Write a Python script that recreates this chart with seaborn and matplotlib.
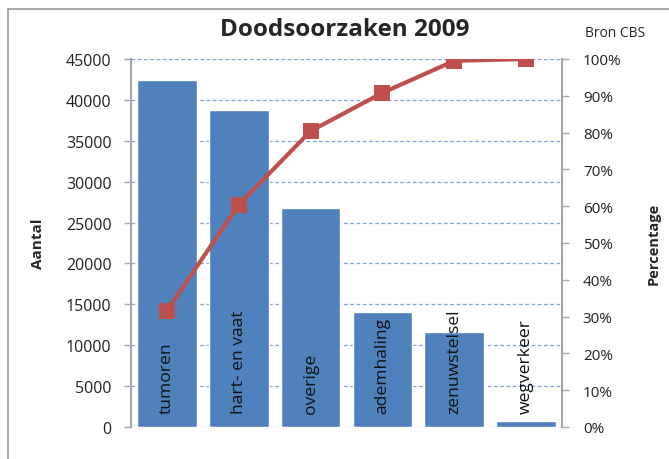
import numpy as np
import pandas as pd
import matplotlib
matplotlib.use("Agg")  # headless backend
import matplotlib.pyplot as plt
from matplotlib.ticker import PercentFormatter
import seaborn as sns

# ---------- data ----------
categories = ["tumoren", "hart- en vaat", "overige", "ademhaling", "zenuwstelsel", "wegverkeer"]
aantal = [42400, 38800, 26800, 14000, 11600, 730]
cum_pct = [31.6, 60.4, 80.4, 90.8, 99.5, 100.0]

df = pd.DataFrame({"categorie": categories, "aantal": aantal, "pct": cum_pct})

bar_color = "#4F81BD"
line_color = "#C0504D"
grid_color = "#7FA3D6"
spine_color = "#A6A6A6"

sns.set_style("white")
plt.rcParams["font.family"] = ["Open Sans", "DejaVu Sans"]

fig = plt.figure(figsize=(6.69, 4.6), dpi=100)
ax = fig.add_axes([0.1958, 0.0696, 0.6442, 0.80])

sns.barplot(data=df, x="categorie", y="aantal", color=bar_color, width=0.83,
            saturation=1, ax=ax, zorder=2)
ax.set_xlim(-0.5, 5.5)
ax.set_ylim(0, 45000)
ax.set_yticks(np.arange(0, 45001, 5000))
ax.yaxis.grid(True, linestyle=(0, (3, 2)), color=grid_color, linewidth=0.9, zorder=0)
ax.set_axisbelow(True)
ax.set_xticks([])
ax.set_xlabel("")
ax.set_ylabel("Aantal", fontsize=11, fontweight="bold", labelpad=15)
ax.tick_params(axis="y", direction="out", length=5, width=1, color=spine_color,
               labelsize=11.5, labelcolor="#222222", left=True, pad=9)
for side in ["top", "bottom", "right"]:
    ax.spines[side].set_visible(False)
ax.spines["left"].set_color(spine_color)
ax.spines["left"].set_linewidth(1.5)

# labels inside the bars
for i, name in enumerate(categories):
    ax.text(i, 1700, name, rotation=90, ha="center", va="bottom",
            fontsize=12.6, color="#111111", zorder=5)

# ---------- cumulative percentage ----------
ax2 = ax.twinx()
sns.lineplot(x=np.arange(len(categories)), y=df["pct"], ax=ax2, color=line_color,
             linewidth=3, marker="s", markersize=11, markeredgewidth=0, zorder=4)
ax2.set_xlim(-0.5, 5.5)
ax2.set_ylim(0, 100)
ax2.set_yticks(np.arange(0, 101, 10))
ax2.yaxis.set_major_formatter(PercentFormatter(decimals=0))
ax2.set_ylabel("Percentage", fontsize=10.5, fontweight="bold", labelpad=18)
ax2.tick_params(axis="y", direction="out", length=5, width=1, color=spine_color,
                labelsize=11, labelcolor="#222222", right=True, pad=10)
for side in ["top", "bottom", "left"]:
    ax2.spines[side].set_visible(False)
ax2.spines["right"].set_color(spine_color)
ax2.spines["right"].set_linewidth(1.5)
ax2.grid(False)

fig.text(0.516, 0.935, "Doodsoorzaken 2009", ha="center", va="center",
         fontsize=17.5, fontweight="bold")
fig.text(0.919, 0.928, "Bron CBS", ha="center", va="center", fontsize=10)

# chart border (partly visible)
fig.add_artist(plt.Line2D([0.012, 1.0], [0.978, 0.978], color="#999999", linewidth=1.2))
fig.add_artist(plt.Line2D([0.012, 0.012], [0.0, 0.978], color="#999999", linewidth=1.2))

fig.savefig("out.png", dpi=100)
plt.close("all")
